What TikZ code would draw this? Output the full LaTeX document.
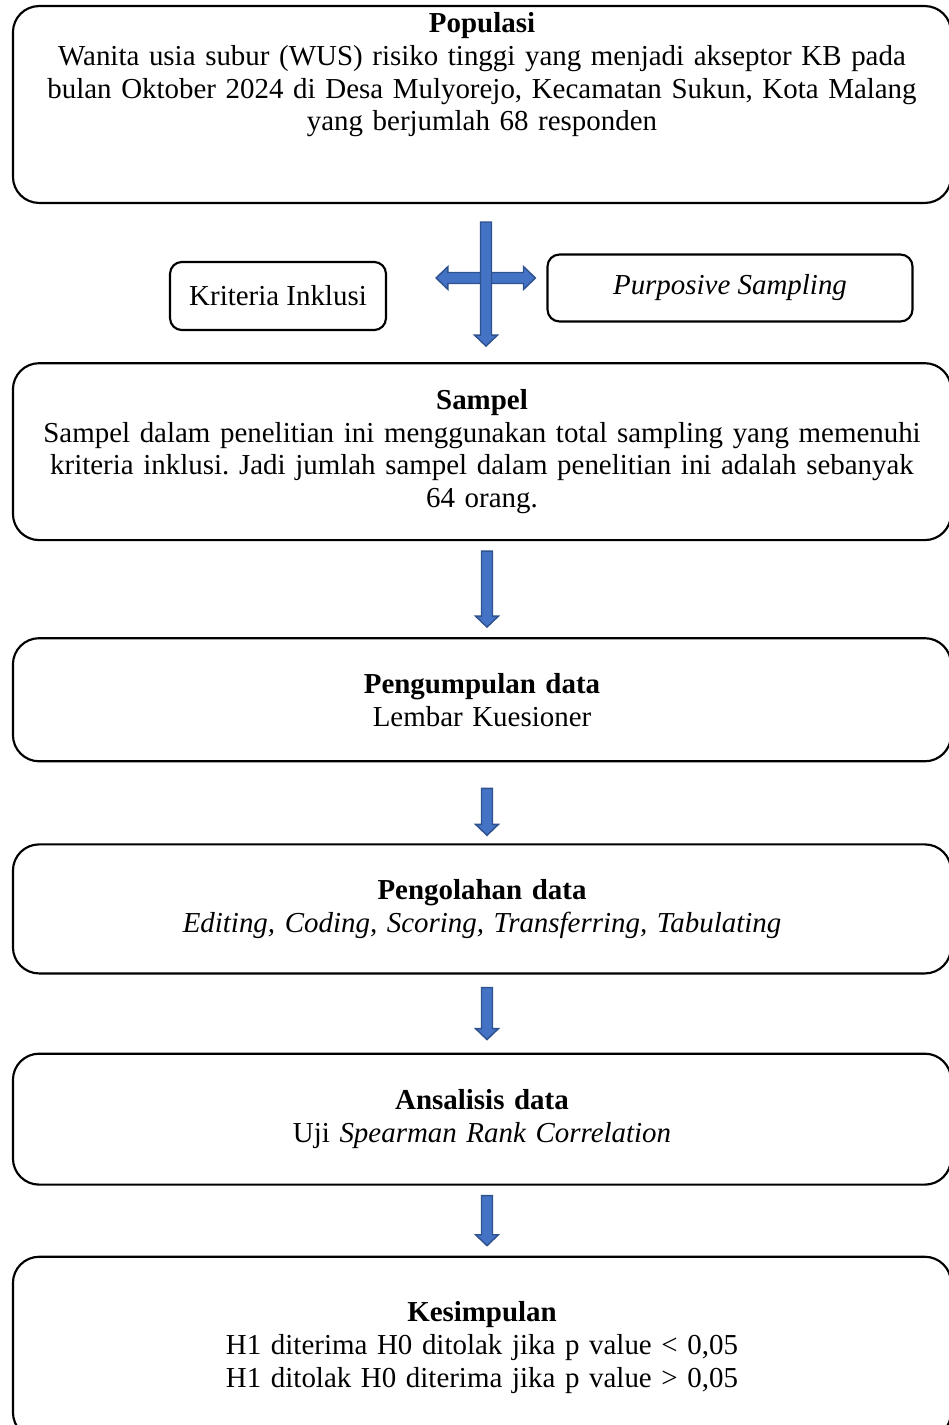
\documentclass[tikz,border=0pt]{standalone}
\usepackage{fontspec}
\setmainfont{Liberation Serif}
\usetikzlibrary{calc, positioning}
\definecolor{arrowfill}{HTML}{4472C4}
\definecolor{arrowline}{HTML}{2F528F}
\frenchspacing

\begin{document}
\begin{tikzpicture}[
    x=0.42pt, y=-0.42pt,
    every node/.style={font=\fontsize{12.15}{13.8}\selectfont},
    stagebox/.style={draw, line width=0.9pt, rectangle, rounded corners=11pt, minimum width=394pt, text width=385pt, align=center, inner sep=0pt},
    sidebox/.style={draw, line width=0.9pt, rectangle, rounded corners=5pt, align=center, inner sep=0pt},
    blockarrow/.style={fill=arrowfill, draw=arrowline, line width=0.6pt},
    blkdown/.style={blockarrow, to path={let \p1=(\tikztostart), \p2=(\tikztotarget) in
        (\x1-2.3pt,\y1) -- (\x1+2.3pt,\y1) -- (\x1+2.3pt,\y2+4.6pt) -- (\x1+4.8pt,\y2+4.6pt)
        -- (\x1,\y2) -- (\x1-4.8pt,\y2+4.6pt) -- (\x1-2.3pt,\y2+4.6pt) -- cycle}},
    blkboth/.style={blockarrow, to path={let \p1=(\tikztostart), \p2=(\tikztotarget) in
        (\x1,\y1) -- (\x1+5pt,\y1+4.8pt) -- (\x1+5pt,\y1+2.3pt) -- (\x2-5pt,\y1+2.3pt)
        -- (\x2-5pt,\y1+4.8pt) -- (\x2,\y1) -- (\x2-5pt,\y1-4.8pt) -- (\x2-5pt,\y1-2.3pt)
        -- (\x1+5pt,\y1-2.3pt) -- (\x1+5pt,\y1-4.8pt) -- cycle}}
]
\useasboundingbox (0,0) rectangle (948,1425);

\node[stagebox, minimum height=82.7pt] (populasi) at (482,104.5) {\textbf{Populasi}\\
    Wanita usia subur (WUS) risiko tinggi yang menjadi akseptor KB pada\\
    bulan Oktober 2024 di Desa Mulyorejo, Kecamatan Sukun, Kota Malang\\
    yang berjumlah 68 responden\\ ~\\ ~};
\node[sidebox, minimum width=90.7pt, minimum height=28.6pt] (kriteria) at (278,296) {Kriteria Inklusi};
\node[sidebox, minimum width=153.3pt, minimum height=28.1pt] (purposive) at (730,288) {\textit{Purposive Sampling}};
\node[stagebox, minimum height=74.3pt, below=66.4pt of populasi] (sampel) {\textbf{Sampel}\\
    Sampel dalam penelitian ini menggunakan total sampling yang memenuhi\\
    kriteria inklusi. Jadi jumlah sampel dalam penelitian ini adalah sebanyak\\
    64 orang.};
\node[stagebox, minimum height=51.7pt, below=40.3pt of sampel] (kumpul) {\textbf{Pengumpulan data}\\
    Lembar Kuesioner};
\node[stagebox, minimum height=54.2pt, below=34pt of kumpul] (olah) {\textbf{Pengolahan data}\\
    \textit{Editing, Coding, Scoring, Transferring, Tabulating}};
\node[stagebox, minimum height=55pt, below=32.8pt of olah] (analisis) {\textbf{Ansalisis data}\\
    Uji \textit{Spearman Rank Correlation}};
\node[stagebox, minimum height=76.4pt, below=29.4pt of analisis] (simpulan) {\textbf{Kesimpulan}\\
    H1 diterima H0 ditolak jika p value < 0,05\\
    H1 ditolak H0 diterima jika p value > 0,05};

\draw[blkboth] ($(kriteria.east)+(49,-18)$) to ($(purposive.west)+(-11,-10)$);
\draw[blkdown] ($(populasi.south)+(4,18)$) to ($(sampel.north)+(4,-16)$);
\draw[blkdown] ($(sampel.south)+(5,10)$) to ($(kumpul.north)+(5,-10)$);
\draw[blkdown] ($(kumpul.south)+(5,26)$) to ($(olah.north)+(5,-8)$);
\draw[blkdown] ($(olah.south)+(5,13)$) to ($(analisis.north)+(5,-13)$);
\draw[blkdown] ($(analisis.south)+(5,10)$) to ($(simpulan.north)+(5,-10)$);

\end{tikzpicture}
\end{document}
